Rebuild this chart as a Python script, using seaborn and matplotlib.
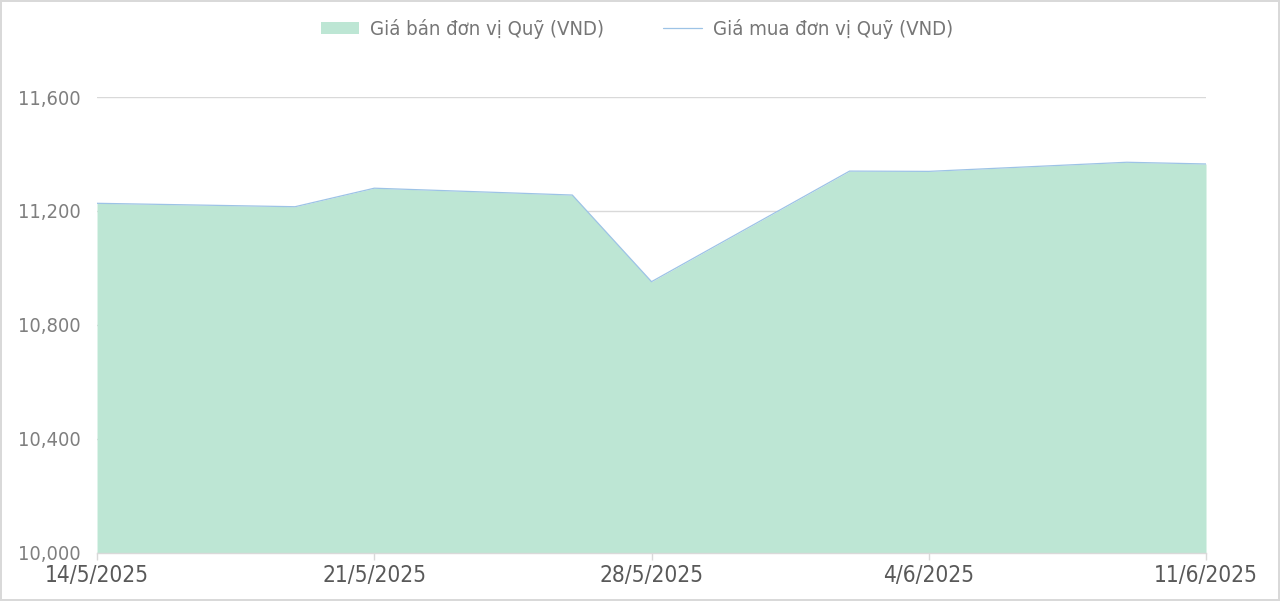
import pandas as pd
import matplotlib.pyplot as plt
from matplotlib import font_manager
from matplotlib.patches import Patch
from matplotlib.lines import Line2D
import seaborn as sns

# data
dates = ['2025-05-14', '2025-05-19', '2025-05-21', '2025-05-26', '2025-05-28',
         '2025-06-02', '2025-06-04', '2025-06-09', '2025-06-11']
sell_price = [11227, 11215, 11280, 11256, 10952, 11340, 11339, 11371, 11365]
buy_price = [11227, 11215, 11280, 11256, 10952, 11340, 11339, 11371, 11365]

tick_dates = ['2025-05-14', '2025-05-21', '2025-05-28', '2025-06-04', '2025-06-11']
tick_labels = ['14/5/2025', '21/5/2025', '28/5/2025', '4/6/2025', '11/6/2025']
y_ticks = [10000, 10400, 10800, 11200, 11600]

sell_label = 'Giá bán đơn vị Quỹ (VND)'
buy_label = 'Giá mua đơn vị Quỹ (VND)'

df = pd.DataFrame({'date': pd.to_datetime(dates), 'sell': sell_price, 'buy': buy_price})

sns.set_theme(style='white')
plt.rcParams['font.family'] = ['DejaVu Sans']
condensed = [f for f in font_manager.fontManager.ttflist
             if f.name == 'DejaVu Sans' and f.stretch == 'condensed']
if condensed:
    plt.rcParams['font.stretch'] = 'condensed'

fill_color = '#bde6d4'
line_color = '#9dc3e6'

fig = plt.figure(figsize=(12.8, 6.01), dpi=100, edgecolor='#d9d9d9', linewidth=1.5)
ax = fig.add_axes([0.0758, 0.0799, 0.8664, 0.7587])

ax.fill_between(df['date'], df['sell'], 10000, color=fill_color, linewidth=0, zorder=2)
sns.lineplot(data=df, x='date', y='buy', ax=ax, color=line_color, linewidth=0.9, zorder=3)

ax.set_ylim(10000, 11600)
ax.set_xlim(df['date'].iloc[0], df['date'].iloc[-1])
ax.set_yticks(y_ticks)
ax.set_yticklabels([f'{v:,}' for v in y_ticks], color='#7f7f7f', fontsize=14.4)
ax.set_xticks(pd.to_datetime(tick_dates))
ax.set_xticklabels(tick_labels, color='#595959', fontsize=16.3)
ax.set_xlabel('')
ax.set_ylabel('')

ax.yaxis.grid(True, color='#d9d9d9', linewidth=1, zorder=1)
ax.set_axisbelow(True)
for side in ['top', 'right', 'left']:
    ax.spines[side].set_visible(False)
ax.spines['bottom'].set_color('#d9d9d9')
ax.spines['bottom'].set_linewidth(1)
ax.tick_params(axis='x', direction='out', length=5, color='#d9d9d9', width=1, pad=3, bottom=True)
ax.tick_params(axis='y', length=0, pad=12)

handles = [Patch(facecolor=fill_color, edgecolor='none'),
           Line2D([0], [0], color=line_color, linewidth=0.9)]
fig.legend(handles, [sell_label, buy_label], loc='center', bbox_to_anchor=(0.4975, 0.952),
           ncol=2, frameon=False, fontsize=14.6, labelcolor='#767676',
           handlelength=1.9, handleheight=0.55, columnspacing=2.9, handletextpad=0.55)

fig.savefig('out.png', dpi=100)
